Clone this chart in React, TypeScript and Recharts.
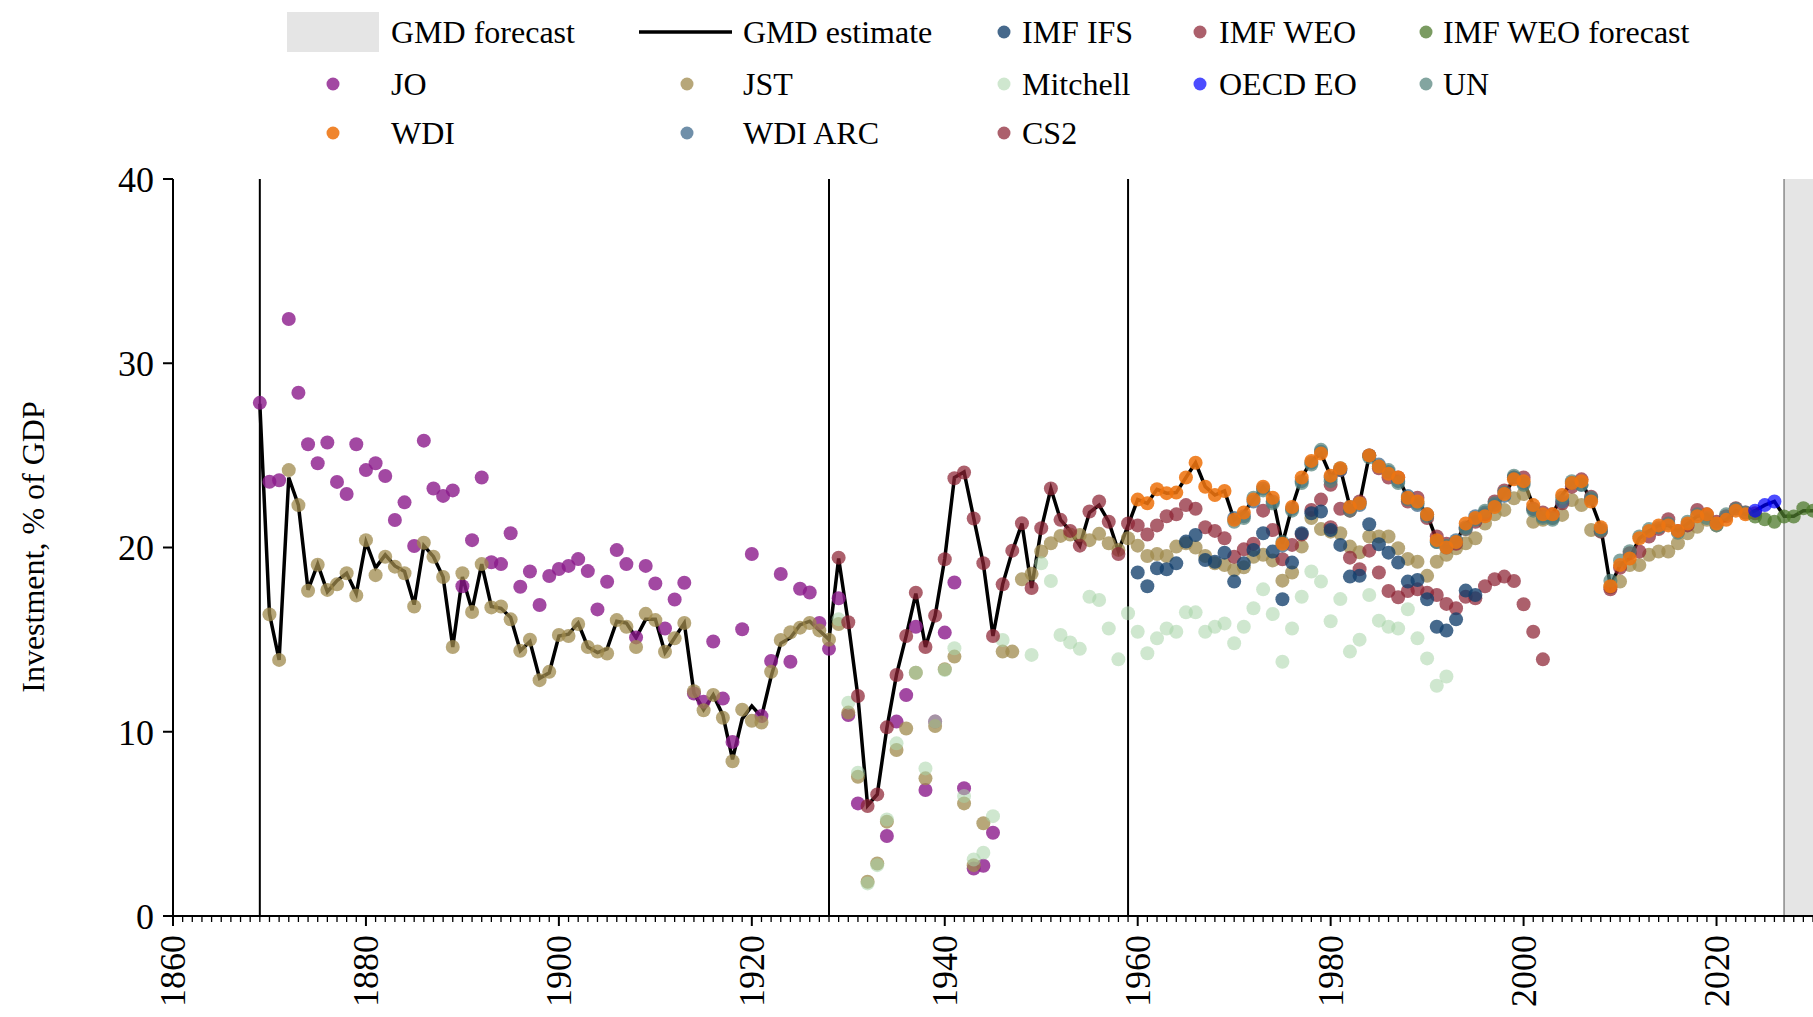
import React from "react";
import {
  ComposedChart,
  Line,
  Scatter,
  XAxis,
  YAxis,
  ReferenceLine,
  ReferenceArea,
} from "recharts";

const W = 1813;
const H = 1017;
const FONT = '"Liberation Serif", "Times New Roman", serif';
const DOT_R = 7;

// axes
const YEAR_MIN = 1860;
const YEAR_MAX = 2030;
const Y_TICKS = [0, 10, 20, 30, 40];
const BREAK_YEARS = [1869, 1928, 1959];
const FORECAST_START = 2027;

// GMD estimate, 1869-2030
const GMD_START = 1869;
const gmdEstimate = [
  27.8, 16.4, 13.9, 23.8, 22.3, 17.7, 19.1, 17.6, 18.2, 18.6,
  17.5, 20.3, 18.9, 19.6, 19.0, 18.7, 16.9, 20.1, 19.5, 18.4,
  14.6, 18.4, 16.6, 19.1, 16.8, 16.7, 16.2, 14.4, 14.9, 12.9,
  13.2, 15.2, 15.3, 15.9, 14.6, 14.3, 14.5, 16.0, 15.9, 15.1,
  16.1, 16.1, 14.3, 15.1, 15.9, 12.1, 11.2, 12.0, 10.9, 8.5,
  10.7, 11.4, 10.8, 13.0, 14.8, 15.1, 15.8, 16.0, 15.5, 15.0,
  19.4, 15.9, 11.9, 6.0, 6.6, 10.2, 13.1, 15.2, 17.5, 14.6,
  16.3, 19.4, 23.8, 24.1, 21.6, 19.1, 15.2, 18.0, 19.8, 21.3,
  17.8, 21.0, 23.2, 21.5, 20.9, 20.1, 21.9, 22.3, 21.4, 19.8,
  21.2, 22.6, 22.4, 23.16, 22.95, 22.98, 23.8, 24.6, 23.3, 22.85,
  23.07, 21.5, 21.9, 22.6, 23.3, 22.7, 20.2, 22.2, 23.8, 24.7,
  25.1, 23.9, 24.3, 22.2, 22.4, 25.0, 24.4, 24.0, 23.8, 22.7,
  22.5, 21.8, 20.4, 20.0, 20.3, 21.3, 21.6, 21.7, 22.2, 22.9,
  23.7, 23.6, 22.3, 21.8, 21.8, 22.85, 23.5, 23.6, 22.5, 21.1,
  17.9, 19.05, 19.4, 20.5, 20.9, 21.2, 21.2, 20.9, 21.3, 21.7,
  21.8, 21.3, 21.5, 22.0, 21.8, 22.0, 22.3, 22.5, 21.7, 21.7,
  22.0, 22.0,
];

const JO_START = 1869;
const jo = [
  27.85, 23.57, 23.65, 32.4, 28.4, 25.6, 24.57, 25.7, 23.56, 22.9,
  25.6, 24.2, 24.57, 23.88, 21.49, 22.45, 20.08, 25.8, 23.2, 22.8,
  23.1, 17.9, 20.4, 23.8, 19.2, 19.1, 20.77, 17.87, 18.7, 16.88,
  18.45, 18.83, 19.0, 19.37, 18.72, 16.64, 18.14, 19.86, 19.1, 15.12,
  19.0, 18.05, 15.6, 17.18, 18.09, 12.08, 11.63, 14.9, 11.8, 9.45,
  15.56, 19.65, 10.85, 13.84, 18.56, 13.8, 17.76, 17.56, 15.9, 14.5,
  17.24, 10.91, 6.11, null, null, 4.34, 10.55, 11.99, 15.7, 6.84,
  10.55, 15.38, 18.1, 6.93, 2.58, 2.73, 4.52,
];

const JST_START = 1870;
const jst = [
  16.37, 13.9, 24.2, 22.3, 17.65, 19.06, 17.7, 18.0, 18.6, 17.4,
  20.4, 18.5, 19.5, 18.96, 18.6, 16.8, 20.26, 19.5, 18.4, 14.6,
  18.6, 16.5, 19.1, 16.75, 16.8, 16.1, 14.4, 15.0, 12.8, 13.25,
  15.25, 15.2, 15.85, 14.6, 14.35, 14.25, 16.06, 15.7, 14.6, 16.4,
  16.06, 14.34, 15.07, 15.9, 12.2, 11.17, 12.0, 10.76, 8.4, 11.2,
  10.6, 10.5, 13.26, 14.98, 15.4, 15.65, 15.9, 15.5, 15.0, 15.85,
  11.04, 7.56, 1.86, 2.85, 5.12, 9.01, 10.18, 13.2, 7.47, 10.31,
  13.39, 14.08, 6.11, 2.76, 5.03, null, 14.35, 14.35, 18.28, 18.57,
  19.78, 20.23, 20.63, 20.7, 20.68, 20.4, 20.74, 20.23, 19.87, 20.5,
  20.1, 19.54, 19.65, 19.54, 20.05, 20.23, 20.0, 19.54, 19.14, 19.05,
  18.78, 18.93, 19.5, 19.6, 19.3, 18.2, 18.64, 20.05, 21.6, 21.0,
  20.86, 20.77, 20.05, 19.74, 20.6, 20.6, 20.6, 19.96, 19.38, 19.23,
  18.46, 19.23, 19.6, 19.96, 20.23, 20.5, 21.3, 21.8, 22.04, 22.67,
  22.9, 21.4, 21.5, 21.6, 21.77, 22.58, 22.31, 20.95, 20.9, 17.84,
  18.15, 19.05, 19.05, 19.6, 19.78, 19.78, 20.23, 20.77, 21.13, 21.5,
  21.2,
];

const MITCHELL_START = 1929;
const mitchell = [
  16.1, 11.58, 7.78, 1.77, 2.76, 5.24, 9.37, null, 13.2, 8.01,
  10.55, 13.35, 14.53, 6.51, 3.07, 3.43, 5.42, 14.98, null, null,
  14.17, 19.14, 18.18, 15.25, 14.85, 14.5, 17.33, 17.15, 15.6, 13.93,
  16.43, 15.43, 14.26, 15.07, 15.6, 15.43, 16.48, 16.48, 15.43, 15.7,
  15.88, 14.8, 15.7, 16.7, 17.73, 16.39, 13.8, 15.6, 17.33, 18.7,
  18.15, 16.0, 17.2, 14.35, 15.0, 17.42, 16.03, 15.7, 15.6, 16.65,
  15.07, 13.98, 12.5, 13.0,
];

const CS2_START = 1929;
const cs2 = [
  19.45, 15.94, 11.94, 5.97, 6.6, 10.24, 13.08, 15.2, 17.55, 14.6,
  16.3, 19.36, 23.76, 24.07, 21.57, 19.15, 15.2, 18.0, 19.83, 21.32,
  17.8, 21.05, 23.2, 21.5, 20.9, 20.1, 21.95, 22.5, 21.4, 19.65,
  21.3, 21.2, 20.7, 21.2, 21.7, 21.8, 22.3, 22.1, 21.1, 20.9,
  20.5, 19.5, 19.9, 20.2, 22.0, 20.95, 19.36, 20.14, 20.7, 22.04,
  22.6, 21.1, 22.1, 19.45, 18.82, 19.83, 18.64, 17.64, 17.3, 17.64,
  17.73, 17.55, 17.42, 16.94, 16.7, 17.33, 17.24, 17.9, 18.28, 18.42,
  18.18, 16.92, 15.43, 13.93,
];

const IFS_START = 1960;
const imfIfs = [
  18.64, 17.9, 18.87, 18.82, 19.14, 20.32, 20.68, 19.32, 19.23, 19.72,
  18.15, 19.14, 19.87, 20.77, 19.78, 17.19, 19.18, 20.77, 21.86, 21.95,
  20.95, 20.14, 18.42, 18.46, 21.26, 20.18, 19.72, 19.18, 18.15, 18.24,
  17.19, 15.7, 15.49, 16.1, 17.66, 17.42,
];

const WEO_START = 1980;
const imfWeo = [
  23.4, 24.2, 22.0, 22.5, 25.0, 24.3, 23.8, 23.8, 22.5, 22.7,
  21.6, 20.6, 20.2, 20.2, 21.0, 21.4, 21.8, 22.5, 23.1, 23.8,
  23.8, 22.1, 21.9, 21.8, 22.4, 23.3, 23.7, 22.76, 20.86, 17.73,
  18.9, 19.69, 19.78, 20.6, 21.0, 21.53, 20.9, 21.2, 22.04, 21.8,
  21.4, 21.7, 22.13, 21.9, 21.86,
];

const WDI_ARC_START = 1970;
const wdiArc = [
  21.6, 21.7, 22.5, 23.2, 22.5, 20.1, 22.1, 23.6, 24.6, 25.2,
  23.8, 24.2, 22.2, 22.3, 25.0, 24.5, 24.1, 23.6, 22.8, 22.3,
  21.8, 20.3, 20.0, 20.4, 21.1, 21.7, 21.9, 22.3, 22.8, 23.8,
  23.5, 22.1, 21.7, 21.6, 22.5, 23.5, 23.4, 22.6, 21.0,
];

const UN_START = 1970;
const un = [
  21.4, 21.6, 22.7, 23.1, 22.4, 20.3, 22.0, 23.5, 24.5, 25.3,
  23.6, 24.3, 22.0, 22.4, 24.9, 24.4, 24.2, 23.5, 22.6, 22.4,
  21.7, 20.3, 20.1, 20.3, 21.0, 21.5, 22.0, 22.4, 23.0, 23.9,
  23.4, 22.0, 21.6, 21.5, 22.7, 23.6, 23.4, 22.7, 20.9, 18.2,
  19.3, 19.8, 20.6, 21.0, 21.1, 21.3, 20.8, 21.4, 21.8, 21.6,
  21.2, 21.8, 22.1, 21.9,
];

const WDI_START = 1960;
const wdi = [
  22.6, 22.4, 23.16, 22.95, 22.98, 23.8, 24.6, 23.3, 22.85, 23.07,
  21.5, 21.9, 22.6, 23.3, 22.7, 20.2, 22.2, 23.8, 24.7, 25.1,
  23.9, 24.3, 22.2, 22.4, 25.0, 24.4, 24.0, 23.8, 22.7, 22.5,
  21.8, 20.4, 20.0, 20.3, 21.3, 21.6, 21.7, 22.2, 22.9, 23.7,
  23.6, 22.3, 21.8, 21.8, 22.85, 23.5, 23.6, 22.5, 21.1, 17.9,
  19.05, 19.4, 20.5, 20.9, 21.2, 21.2, 20.9, 21.3, 21.7, 21.8,
  21.3, 21.5, 22.0, 21.8,
];

const WEO_FC_START = 2024;
const imfWeoForecast = [21.68, 21.53, 21.4, 21.68, 21.68, 22.13, 22.0];

const OECD_START = 2024;
const oecdEo = [22.0, 22.3, 22.5];

type Src = {
  name: string;
  start: number;
  values: (number | null)[];
  color: string;
  opacity: number;
};

// draw order: later ones sit on top
const SOURCES: Src[] = [
  { name: "JO", start: JO_START, values: jo, color: "#8b1a8b", opacity: 0.8 },
  { name: "JST", start: JST_START, values: jst, color: "#9f8a4c", opacity: 0.75 },
  { name: "Mitchell", start: MITCHELL_START, values: mitchell, color: "#a8d4a8", opacity: 0.55 },
  { name: "CS2", start: CS2_START, values: cs2, color: "#8c2233", opacity: 0.72 },
  { name: "IMF IFS", start: IFS_START, values: imfIfs, color: "#123f6b", opacity: 0.78 },
  { name: "IMF WEO", start: WEO_START, values: imfWeo, color: "#8c2233", opacity: 0.72 },
  { name: "WDI ARC", start: WDI_ARC_START, values: wdiArc, color: "#3f6a8c", opacity: 0.75 },
  { name: "UN", start: UN_START, values: un, color: "#4f7f78", opacity: 0.7 },
  { name: "WDI", start: WDI_START, values: wdi, color: "#ee7410", opacity: 0.88 },
  { name: "IMF WEO forecast", start: WEO_FC_START, values: imfWeoForecast, color: "#4d7a2c", opacity: 0.75 },
  { name: "OECD EO", start: OECD_START, values: oecdEo, color: "#0000ff", opacity: 0.7 },
];

const toPoints = (start: number, values: (number | null)[]) =>
  values.flatMap((v, i) => (v == null ? [] : [{ year: start + i, value: v }]));

const yearTicks = Array.from({ length: YEAR_MAX - YEAR_MIN + 1 }, (_, i) => YEAR_MIN + i);

const dotShape = (color: string, opacity: number) => (p: any) =>
  p.cx == null || p.cy == null ? (
    <g />
  ) : (
    <circle cx={p.cx} cy={p.cy} r={DOT_R} fill={color} fillOpacity={opacity} />
  );

const YearTick = (props: any) => {
  const { x, y, payload } = props;
  const year = payload.value;
  const major = year % 20 === 0;
  const ty = y + 19;
  return (
    <g>
      <line
        x1={x}
        y1={y}
        x2={x}
        y2={y + (major ? 10 : 6)}
        stroke="#000"
        strokeWidth={major ? 2 : 1.3}
      />
      {major && (
        <text
          x={x}
          y={ty}
          transform={`rotate(-90 ${x} ${ty})`}
          textAnchor="end"
          dominantBaseline="central"
          fontSize={36}
          fontFamily={FONT}
          fill="#000"
        >
          {year}
        </text>
      )}
    </g>
  );
};

const YLabel = () => (
  <text
    x={33}
    y={547}
    transform="rotate(-90 33 547)"
    textAnchor="middle"
    dominantBaseline="central"
    fontSize={32}
    fontFamily={FONT}
    fill="#000"
  >
    Investment, % of GDP
  </text>
);

// legend layout
const LEGEND_ROWS = [
  ["GMD forecast", "GMD estimate", "IMF IFS", "IMF WEO", "IMF WEO forecast"],
  ["JO", "JST", "Mitchell", "OECD EO", "UN"],
  ["WDI", "WDI ARC", "CS2"],
];
const LEG_TEXT_X = [391, 743, 1022, 1219, 1443];
const LEG_MARK_X = [333, 687, 1004, 1200, 1426];
const LEG_ROW_Y = [32, 84, 133];

function LegendBlock() {
  const style = (name: string) => SOURCES.find((s) => s.name === name);
  return (
    <svg width={W} height={160} style={{ position: "absolute", left: 0, top: 0 }}>
      {LEGEND_ROWS.map((row, r) =>
        row.map((name, c) => {
          const y = LEG_ROW_Y[r];
          let mark: React.ReactNode = null;
          if (name === "GMD forecast") {
            mark = <rect x={287} y={12} width={92} height={40} fill="#e5e5e5" />;
          } else if (name === "GMD estimate") {
            mark = <line x1={639} x2={732} y1={y} y2={y} stroke="#000" strokeWidth={3.5} />;
          } else {
            const s = style(name)!;
            mark = <circle cx={LEG_MARK_X[c]} cy={y} r={6.5} fill={s.color} fillOpacity={s.opacity} />;
          }
          return (
            <g key={name}>
              {mark}
              <text
                x={LEG_TEXT_X[c]}
                y={y}
                dominantBaseline="central"
                fontSize={32}
                fontFamily={FONT}
                fill="#000"
              >
                {name}
              </text>
            </g>
          );
        })
      )}
    </svg>
  );
}

export default function App() {
  const gmd = toPoints(GMD_START, gmdEstimate);
  return (
    <div style={{ position: "absolute", left: 0, top: 0, width: W, height: H, background: "#fff" }}>
      <ComposedChart width={W} height={H} margin={{ top: 179, right: 0, bottom: 0, left: 0 }}>
        <ReferenceArea
          x1={FORECAST_START}
          x2={YEAR_MAX}
          y1={0}
          y2={40}
          fill="#e5e5e5"
          fillOpacity={1}
          stroke="none"
        />
        <XAxis
          type="number"
          dataKey="year"
          domain={[YEAR_MIN, YEAR_MAX]}
          ticks={yearTicks}
          interval={0}
          tick={<YearTick />}
          tickSize={0}
          tickMargin={0}
          tickLine={false}
          axisLine={{ stroke: "#000", strokeWidth: 2 }}
          height={101}
          allowDataOverflow
        />
        <YAxis
          type="number"
          domain={[0, 40]}
          ticks={Y_TICKS}
          width={173}
          tickSize={10}
          tickMargin={9}
          tickLine={{ stroke: "#000", strokeWidth: 2 }}
          axisLine={{ stroke: "#000", strokeWidth: 2 }}
          tick={{ fontSize: 36, fill: "#000", fontFamily: FONT }}
          label={YLabel}
          allowDataOverflow
        />
        <ReferenceLine x={FORECAST_START} stroke="#8a8a8a" strokeWidth={1.5} />
        {BREAK_YEARS.map((yr) => (
          <ReferenceLine key={yr} x={yr} stroke="#000" strokeWidth={2} />
        ))}
        <Line
          data={gmd}
          dataKey="value"
          stroke="#000"
          strokeWidth={3.5}
          dot={false}
          activeDot={false}
          isAnimationActive={false}
          name="GMD estimate"
        />
        {SOURCES.map((s) => (
          <Scatter
            key={s.name}
            name={s.name}
            data={toPoints(s.start, s.values)}
            dataKey="value"
            shape={dotShape(s.color, s.opacity)}
            isAnimationActive={false}
          />
        ))}
      </ComposedChart>
      <LegendBlock />
    </div>
  );
}
